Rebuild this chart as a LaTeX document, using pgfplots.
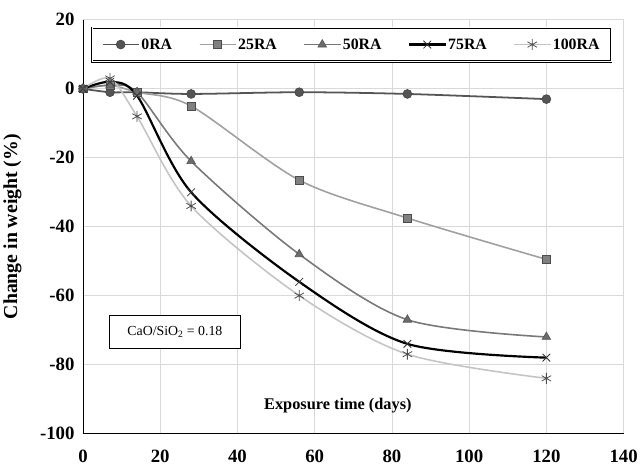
\documentclass[border=0pt]{standalone}
\usepackage{pgfplots}
\pgfplotsset{compat=1.18}
\usepackage{fontspec}
\setmainfont{Liberation Serif}
\definecolor{c0}{HTML}{555555}
\definecolor{c25}{HTML}{A0A0A0}
\definecolor{c50}{HTML}{787878}
\definecolor{c100}{HTML}{C4C4C4}
\begin{document}
\begin{tikzpicture}
\begin{axis}[
    name=ax,
    scale only axis,
    width=545bp, height=417bp,
    xmin=0, xmax=140, ymin=-100, ymax=20,
    xtick={0,20,...,140}, ytick={-100,-80,...,20},
    axis lines=left, axis line style={-, thick},
    tick style={draw=none},
    grid=major, grid style={gray!30, thick},
    font=\bfseries\fontsize{16}{18}\selectfont,
    /pgf/number format/assume math mode=true,
    ticklabel style={font=\bfseries\fontsize{19}{21}\selectfont},
    xticklabel style={yshift=-11pt},
    yticklabel style={xshift=-3pt},
    ylabel={Change in weight (\%)},
    ylabel style={font=\bfseries\fontsize{20}{22}\selectfont, yshift=12pt},
    clip=false,
    legend columns=-1,
    legend style={at={(0.497,0.982)}, anchor=north, draw=black, double, thick,
      font=\bfseries\fontsize{16}{18}\selectfont,
      /tikz/every even column/.append style={column sep=25bp},
      inner xsep=10pt, inner ysep=9pt},
    legend image code/.code={\draw[#1] (0bp,0bp) -- (36bp,0bp); \draw[#1, mark repeat=2, mark phase=2] plot coordinates {(0bp,0bp) (18bp,0bp) (36bp,0bp)};},
  ]
\addplot[c0, line width=1.8pt, smooth, mark=*, mark size=4.5pt, mark options={fill=c0, draw=c0!80!black, line width=0.6pt}]
  coordinates {(0,0) (7,-1) (14,-1) (28,-1.5) (56,-1) (84,-1.5) (120,-3)};
\addlegendentry{0RA}
\addplot[c25, line width=1.6pt, smooth, mark=square*, mark size=4pt, mark options={fill=gray, draw=black!70, line width=0.6pt}]
  coordinates {(0,0) (7,1) (14,-1) (28,-5) (56,-26.5) (84,-37.5) (120,-49.5)};
\addlegendentry{25RA}
\addplot[c50, line width=1.6pt, smooth, mark=triangle*, mark size=5pt, mark options={fill=c50!90!black, draw=c50!70!black, line width=0.6pt}]
  coordinates {(0,0) (7,1) (14,-1) (28,-21) (56,-48) (84,-67) (120,-72)};
\addlegendentry{50RA}
\addplot[black, line width=2.2pt, smooth, mark=x, mark size=5.5pt, mark options={line width=0.8pt, draw=black!80}]
  coordinates {(0,0) (7,2) (14,-2) (28,-30) (56,-56) (84,-74) (120,-78)};
\addlegendentry{75RA}
\addplot[c100, line width=1.6pt, smooth, mark=asterisk, mark size=5.5pt, mark options={line width=0.8pt, draw=black!70}]
  coordinates {(0,0) (7,3) (14,-8) (28,-34) (56,-60) (84,-77) (120,-84)};
\addlegendentry{100RA}
\node[draw=black, thick, fill=white, font=\fontsize{14}{16}\selectfont, inner xsep=18pt, inner ysep=11pt]
  at (axis cs:23.8,-70.5) {CaO/SiO\textsubscript{2} = 0.18};
\node[font=\bfseries\fontsize{16.5}{18}\selectfont] at (axis cs:66,-92) {Exposure time (days)};
\end{axis}
\path ([yshift=20bp,xshift=14bp]ax.north east);
\end{tikzpicture}
\end{document}
